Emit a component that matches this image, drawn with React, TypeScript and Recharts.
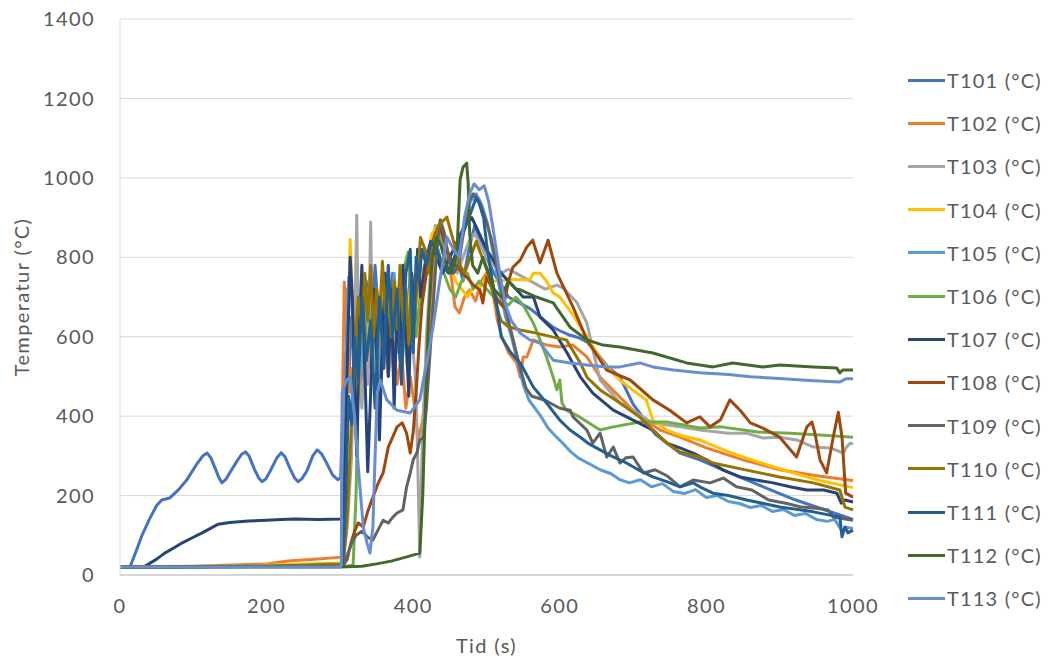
import { LineChart, Line, XAxis, YAxis, CartesianGrid } from 'recharts';

type Pt = [number, number];

// Time (s) / temperature (°C) pairs
const T101: Pt[] = [
  [0, 20], [14, 22], [22, 60], [30, 100], [40, 140], [50, 175], [57, 189], [68, 194], [80, 215], [91, 239], [105, 280], [113, 300],
  [119, 307], [124, 295], [130, 268], [135, 245], [139, 232], [144, 240], [150, 258], [160, 288], [166, 304], [171, 310], [176, 300],
  [183, 268], [189, 245], [194, 235], [199, 242], [205, 262], [214, 295], [220, 308], [225, 298], [232, 268], [238, 245], [243, 235],
  [248, 242], [255, 262], [263, 300], [269, 315], [275, 305], [283, 278], [290, 252], [297, 240], [301, 245], [304, 420], [308, 560],
  [312, 480], [316, 650], [320, 520], [325, 700], [330, 560], [336, 740], [342, 600], [348, 780], [354, 620], [360, 700], [366, 560],
  [372, 760], [378, 640], [384, 720], [390, 600], [396, 760], [402, 660], [408, 800], [414, 740], [420, 820], [428, 780], [436, 860],
  [444, 820], [452, 760], [460, 800], [468, 740], [476, 820], [484, 880], [492, 840], [500, 800], [510, 760], [520, 730], [530, 700],
  [540, 690], [550, 680], [560, 670], [570, 655], [580, 640], [590, 625], [600, 615], [612, 605], [625, 598], [637, 587], [650, 560],
  [665, 525], [682, 499], [700, 430], [730, 355], [764, 307], [791, 290], [836, 254], [880, 220], [920, 190], [960, 165], [1000, 140],
];
const T102: Pt[] = [
  [0, 20], [100, 22], [200, 28], [229, 35], [270, 40], [302, 45], [304, 500], [306, 738], [308, 600], [310, 720], [313, 460], [316, 520],
  [320, 450], [325, 560], [330, 480], [336, 620], [342, 520], [348, 680], [354, 560], [360, 640], [366, 500], [372, 600], [378, 480],
  [384, 560], [390, 420], [396, 500], [402, 423], [407, 340], [413, 390], [417, 473], [420, 541], [425, 700], [431, 820], [437, 894],
  [443, 860], [450, 780], [457, 675], [463, 660], [470, 700], [477, 718], [485, 690], [493, 740], [500, 760], [508, 720], [515, 640],
  [521, 600], [530, 560], [541, 534], [546, 498], [550, 549], [555, 549], [564, 592], [582, 579], [600, 574], [618, 579], [637, 549],
  [655, 498], [682, 448], [709, 398], [737, 365], [764, 347], [800, 320], [850, 290], [900, 265], [950, 250], [1000, 238],
];
const T103: Pt[] = [
  [0, 20], [150, 22], [300, 28], [304, 30], [310, 120], [316, 300], [320, 600], [323, 906], [326, 500], [330, 420], [334, 560],
  [338, 480], [342, 889], [345, 520], [350, 600], [356, 480], [362, 640], [368, 520], [374, 700], [380, 560], [386, 660], [392, 520],
  [398, 600], [403, 500], [406, 300], [409, 45], [412, 300], [418, 600], [424, 780], [430, 880], [436, 860], [444, 820], [452, 780],
  [460, 760], [468, 800], [476, 840], [484, 860], [492, 830], [500, 800], [510, 780], [520, 760], [530, 770], [540, 760], [550, 750],
  [560, 740], [570, 730], [580, 720], [596, 730], [605, 722], [623, 687], [637, 634], [646, 560], [655, 491], [682, 433], [727, 383],
  [764, 373], [791, 365], [830, 357], [855, 357], [877, 345], [900, 347], [923, 340], [946, 322], [969, 320], [987, 307], [991, 322],
  [996, 332], [1000, 330],
];
const T104: Pt[] = [
  [0, 20], [150, 22], [300, 30], [305, 35], [308, 300], [311, 600], [314, 845], [317, 700], [320, 458], [324, 520], [328, 620],
  [333, 540], [338, 680], [344, 580], [350, 720], [356, 620], [362, 760], [368, 640], [374, 700], [380, 600], [386, 720], [392, 640],
  [398, 760], [404, 680], [410, 740], [418, 800], [426, 860], [434, 880], [442, 840], [450, 780], [458, 740], [466, 720], [474, 700],
  [482, 725], [491, 725], [500, 750], [510, 740], [520, 740], [530, 745], [559, 743], [564, 760], [573, 760], [582, 740], [591, 710],
  [600, 700], [618, 655], [637, 599], [659, 534], [682, 491], [705, 458], [718, 441], [727, 390], [746, 365], [764, 352], [791, 340],
  [830, 310], [870, 285], [910, 262], [950, 240], [1000, 220],
];
const T105: Pt[] = [
  [0, 20], [300, 22], [303, 25], [306, 300], [309, 600], [312, 750], [316, 700], [320, 540], [326, 680], [332, 500], [338, 720],
  [344, 560], [350, 650], [356, 480], [362, 700], [368, 560], [374, 760], [380, 600], [386, 700], [392, 540], [398, 740], [404, 620],
  [410, 700], [418, 760], [426, 820], [434, 860], [442, 800], [450, 760], [460, 780], [470, 880], [478, 940], [486, 960], [494, 930],
  [502, 880], [510, 800], [518, 720], [526, 650], [534, 600], [542, 540], [550, 480], [558, 440], [566, 420], [574, 400], [584, 370],
  [594, 350], [605, 330], [615, 310], [625, 295], [640, 280], [655, 265], [670, 255], [682, 240], [695, 232], [710, 240], [725, 222],
  [740, 230], [755, 210], [770, 205], [785, 215], [800, 195], [815, 200], [830, 185], [845, 180], [860, 170], [875, 175], [890, 160],
  [905, 165], [920, 150], [935, 155], [950, 140], [965, 135], [975, 140], [985, 110], [990, 120], [1000, 118],
];
const T106: Pt[] = [
  [0, 20], [200, 22], [310, 22], [318, 25], [322, 200], [325, 450], [328, 600], [332, 680], [338, 560], [344, 640], [350, 720],
  [356, 600], [362, 700], [368, 640], [374, 740], [380, 620], [386, 760], [393, 813], [398, 680], [404, 600], [410, 700], [418, 760],
  [426, 800], [434, 820], [442, 760], [450, 720], [458, 700], [466, 740], [474, 760], [482, 720], [490, 740], [500, 720], [510, 700],
  [520, 690], [530, 680], [540, 700], [550, 680], [556, 660], [564, 634], [573, 592], [582, 549], [591, 498], [596, 466], [600, 491],
  [603, 433], [609, 415], [627, 398], [655, 365], [673, 373], [709, 385], [746, 385], [791, 370], [820, 373], [870, 360], [915, 357],
  [960, 352], [1000, 347],
];
const T107: Pt[] = [
  [0, 20], [25, 20], [34, 22], [50, 40], [61, 55], [75, 70], [85, 81], [100, 95], [112, 106], [124, 118], [134, 128], [150, 132],
  [175, 136], [200, 138], [220, 140], [239, 141], [270, 140], [303, 141], [305, 160], [308, 350], [311, 600], [314, 800], [317, 700],
  [320, 480], [323, 300], [326, 600], [330, 780], [334, 520], [338, 260], [342, 460], [346, 720], [350, 560], [354, 340], [358, 600],
  [362, 760], [366, 500], [370, 720], [374, 420], [378, 680], [382, 540], [386, 780], [390, 620], [394, 450], [398, 760], [402, 640],
  [406, 820], [410, 700], [416, 780], [424, 840], [432, 800], [440, 760], [450, 800], [460, 840], [470, 880], [480, 900], [490, 860],
  [500, 820], [510, 790], [520, 760], [530, 740], [540, 720], [550, 700], [564, 700], [573, 650], [591, 617], [610, 559], [628, 499],
  [645, 458], [673, 415], [700, 390], [727, 365], [746, 332], [764, 320], [782, 307], [800, 290], [823, 264], [846, 247], [868, 239],
  [891, 232], [914, 222], [937, 214], [960, 214], [978, 206], [984, 181], [989, 189], [1000, 184],
];
const T108: Pt[] = [
  [0, 20], [200, 22], [305, 25], [310, 40], [315, 80], [320, 110], [325, 131], [332, 121], [338, 160], [345, 196], [352, 230],
  [359, 257], [366, 322], [372, 347], [378, 373], [385, 383], [391, 357], [396, 307], [400, 360], [404, 460], [408, 580], [412, 680],
  [418, 760], [424, 820], [430, 860], [436, 880], [442, 840], [450, 800], [458, 780], [464, 768], [473, 750], [482, 730], [491, 718],
  [495, 685], [500, 750], [508, 720], [516, 690], [523, 675], [530, 740], [536, 775], [546, 793], [555, 826], [563, 843], [573, 786],
  [584, 843], [596, 760], [618, 675], [637, 592], [664, 516], [696, 491], [727, 441], [750, 415], [773, 383], [791, 398], [805, 373],
  [819, 390], [832, 441], [846, 415], [860, 383], [877, 370], [900, 347], [923, 297], [937, 373], [944, 385], [948, 357], [955, 290],
  [964, 257], [973, 347], [980, 410], [985, 347], [990, 206], [1000, 196],
];
const T109: Pt[] = [
  [0, 20], [300, 22], [305, 25], [310, 50], [316, 80], [322, 100], [330, 110], [338, 95], [345, 88], [351, 110], [359, 138],
  [366, 131], [372, 145], [378, 156], [386, 164], [391, 222], [396, 257], [400, 290], [405, 307], [409, 340], [414, 347], [418, 420],
  [423, 560], [428, 700], [433, 840], [437, 894], [442, 860], [448, 800], [455, 760], [462, 780], [470, 880], [476, 940], [482, 960],
  [490, 940], [498, 900], [506, 850], [514, 780], [522, 700], [530, 640], [538, 580], [546, 520], [554, 470], [562, 450], [580, 440],
  [600, 420], [614, 415], [618, 398], [637, 365], [645, 332], [655, 357], [664, 297], [673, 322], [682, 282], [690, 295], [700, 297],
  [714, 257], [730, 265], [746, 250], [764, 222], [782, 239], [805, 232], [823, 244], [841, 222], [862, 214], [885, 189], [910, 180],
  [930, 171], [950, 168], [966, 164], [973, 146], [1000, 138],
];
const T110: Pt[] = [
  [0, 20], [200, 22], [300, 28], [305, 30], [310, 150], [315, 350], [320, 550], [325, 700], [330, 620], [334, 760], [338, 640],
  [342, 780], [346, 600], [350, 720], [354, 640], [358, 790], [362, 660], [366, 760], [370, 600], [374, 740], [378, 620], [382, 780],
  [386, 640], [390, 720], [394, 580], [398, 700], [402, 640], [406, 760], [410, 850], [416, 820], [422, 760], [428, 840], [434, 880],
  [440, 890], [446, 901], [452, 860], [458, 820], [464, 780], [470, 760], [478, 800], [486, 840], [494, 800], [502, 760], [510, 700],
  [520, 640], [530, 625], [546, 617], [568, 609], [591, 599], [609, 592], [628, 534], [637, 498], [655, 466], [682, 433], [709, 398],
  [727, 365], [746, 332], [764, 310], [791, 297], [809, 282], [855, 264], [900, 247], [946, 232], [982, 214], [989, 171], [1000, 164],
];
const T111: Pt[] = [
  [0, 20], [300, 22], [304, 25], [308, 200], [312, 450], [316, 380], [320, 600], [325, 480], [330, 700], [336, 540], [342, 640],
  [348, 420], [354, 700], [360, 520], [366, 780], [372, 600], [378, 720], [384, 480], [390, 760], [396, 820], [400, 560], [404, 800],
  [408, 740], [412, 820], [418, 780], [424, 840], [432, 820], [440, 780], [448, 760], [456, 800], [464, 840], [472, 880], [480, 920],
  [486, 950], [490, 936], [496, 900], [500, 836], [507, 750], [514, 680], [520, 600], [533, 560], [546, 534], [564, 473], [582, 433],
  [600, 390], [614, 365], [628, 347], [640, 330], [655, 315], [670, 300], [691, 282], [710, 262], [727, 247], [746, 235], [764, 222],
  [782, 232], [791, 222], [809, 206], [830, 200], [855, 189], [878, 180], [900, 171], [925, 165], [946, 159], [965, 152], [982, 146],
  [985, 96], [989, 121], [993, 106], [1000, 113],
];
const T112: Pt[] = [
  [0, 20], [300, 20], [330, 22], [350, 28], [370, 35], [390, 45], [409, 55], [413, 200], [417, 450], [421, 650], [426, 800],
  [432, 850], [438, 830], [445, 780], [452, 760], [458, 800], [460, 826], [464, 995], [468, 1027], [473, 1037], [475, 987], [477, 861],
  [481, 780], [488, 760], [495, 800], [503, 760], [510, 720], [520, 700], [530, 740], [540, 720], [546, 718], [568, 700], [591, 685],
  [614, 624], [637, 592], [659, 579], [682, 574], [727, 559], [773, 534], [791, 529], [809, 524], [836, 534], [877, 524], [900, 529],
  [946, 524], [978, 521], [982, 509], [986, 516], [1000, 516],
];
const T113: Pt[] = [
  [0, 20], [300, 20], [302, 25], [303, 458], [309, 490], [314, 498], [320, 400], [326, 250], [332, 120], [337, 81], [341, 55],
  [345, 121], [348, 300], [351, 458], [355, 491], [364, 441], [378, 415], [396, 408], [409, 441], [419, 541], [427, 624], [437, 750],
  [446, 851], [455, 820], [463, 800], [470, 900], [477, 960], [483, 985], [490, 970], [497, 980], [503, 940], [510, 860], [518, 760],
  [526, 680], [534, 640], [546, 609], [559, 592], [573, 584], [591, 541], [614, 534], [637, 529], [664, 524], [682, 524], [709, 534],
  [727, 524], [755, 516], [791, 509], [830, 505], [860, 499], [900, 495], [940, 490], [982, 486], [990, 494], [1000, 494],
];

const SERIES_NAMES = [
  'T101 (°C)', 'T102 (°C)', 'T103 (°C)', 'T104 (°C)', 'T105 (°C)', 'T106 (°C)', 'T107 (°C)',
  'T108 (°C)', 'T109 (°C)', 'T110 (°C)', 'T111 (°C)', 'T112 (°C)', 'T113 (°C)',
];
const SERIES_DATA = [T101, T102, T103, T104, T105, T106, T107, T108, T109, T110, T111, T112, T113];
const COLORS = [
  '#4472C4', '#ED7D31', '#A5A5A5', '#FFC000', '#5B9BD5', '#70AD47', '#264478',
  '#9E480E', '#636363', '#997300', '#255E91', '#43682B', '#698ED0',
];
const X_TICKS = [0, 200, 400, 600, 800, 1000];
const Y_TICKS = [0, 200, 400, 600, 800, 1000, 1200, 1400];

const FONT = 'Lato, "Open Sans", sans-serif';
const TEXT = '#595959';
const textStyle = { fontSize: 20, fontFamily: FONT, letterSpacing: '1.4px' };

const App = () => {
  return (
    <div style={{ position: 'absolute', left: 0, top: 0, width: 1048, height: 661, background: '#fff', fontFamily: FONT }}>
      <LineChart width={1048} height={661} margin={{ top: 19, right: 195, bottom: 0, left: 0 }}>
        <CartesianGrid vertical={false} stroke="#d9d9d9" />
        <XAxis
          type="number"
          dataKey="t"
          domain={[0, 1000]}
          ticks={X_TICKS}
          height={86}
          tickLine={false}
          axisLine={{ stroke: '#bfbfbf' }}
          tickMargin={18}
          tick={{ fill: TEXT, style: textStyle }}
          label={{ value: 'Tid (s)', position: 'insideBottom', offset: 8, fill: TEXT, style: textStyle }}
        />
        <YAxis
          type="number"
          domain={[0, 1400]}
          ticks={Y_TICKS}
          width={120}
          tickLine={false}
          axisLine={{ stroke: '#d9d9d9' }}
          tickMargin={19}
          tick={{ fill: TEXT, style: textStyle }}
          label={{
            value: 'Temperatur (°C)',
            angle: -90,
            position: 'insideLeft',
            offset: 22,
            fill: TEXT,
            style: { ...textStyle, textAnchor: 'middle' },
          }}
        />
        {SERIES_DATA.map((arr, i) => (
          <Line
            key={SERIES_NAMES[i]}
            data={arr.map(([t, v]) => ({ t, v }))}
            dataKey="v"
            name={SERIES_NAMES[i]}
            type="linear"
            stroke={COLORS[i]}
            strokeWidth={3}
            strokeLinejoin="round"
            dot={false}
            isAnimationActive={false}
          />
        ))}
      </LineChart>

      {/* legend, drawn by hand so it does not change the plot size */}
      {SERIES_NAMES.map((name, i) => (
        <div
          key={name}
          style={{ position: 'absolute', left: 908, top: 80 + i * 43.2 - 13, height: 26, display: 'flex', alignItems: 'center' }}
        >
          <div style={{ width: 37, height: 3, background: COLORS[i] }} />
          <span style={{ marginLeft: 2, fontSize: 20, letterSpacing: '1.2px', color: TEXT, whiteSpace: 'nowrap' }}>{name}</span>
        </div>
      ))}
    </div>
  );
};

export default App;
